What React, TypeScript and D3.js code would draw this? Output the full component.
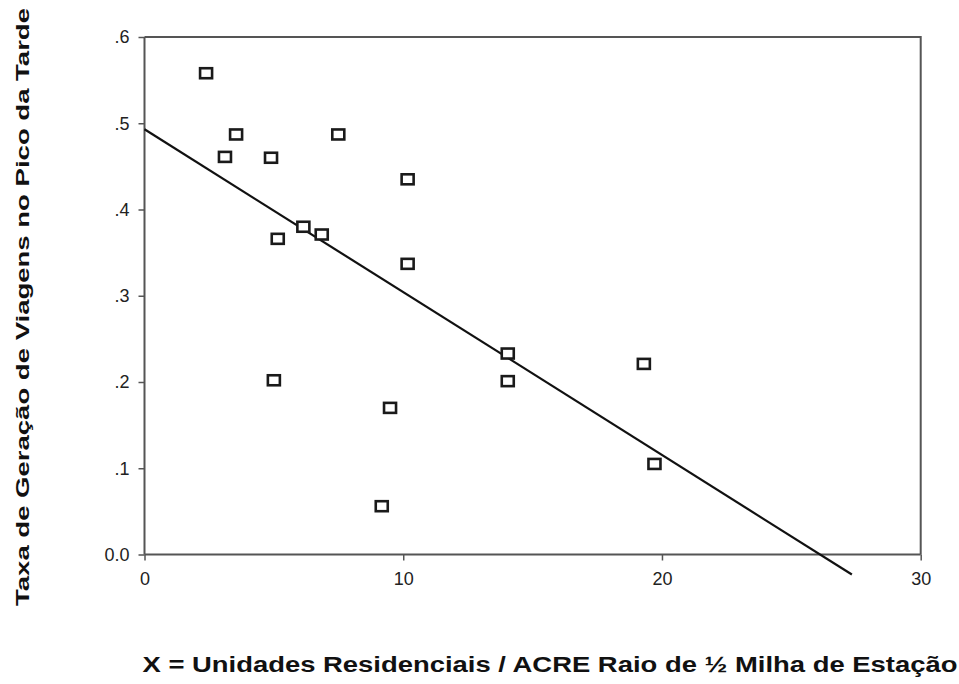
import React, { useRef, useEffect } from 'react';
import * as d3 from 'd3';

// residential units per acre (x) and PM peak trip generation rate (y)
const unitsPerAcre = [2.38, 3.54, 3.11, 4.89, 7.49, 6.14, 6.85, 5.15, 10.17, 10.17, 14.04, 14.04, 9.49, 9.17, 5.0, 19.3, 19.71];
const tripRate = [0.558, 0.487, 0.461, 0.46, 0.487, 0.38, 0.371, 0.366, 0.435, 0.337, 0.233, 0.201, 0.17, 0.056, 0.202, 0.221, 0.105];

// fitted line endpoints (x values) and its coefficients
const fitX = [0, 27.34];
const fitIntercept = 0.493;
const fitSlope = -0.01888;

const xTicks = [0, 10, 20, 30];
const yTicks = [0, 0.1, 0.2, 0.3, 0.4, 0.5, 0.6];
const yTickLabels = ['0.0', '.1', '.2', '.3', '.4', '.5', '.6'];

const xTitle = 'X = Unidades Residenciais / ACRE Raio de ½ Milha de Estação';
const yTitle = 'Taxa de Geração de Viagens no Pico da Tarde';

const W = 959;
const H = 684;

const App: React.FC = () => {
    const svgRef = useRef<SVGSVGElement | null>(null);

    useEffect(() => {
        if (!svgRef.current) return;
        const svg = d3.select(svgRef.current);
        svg.selectAll('*').remove();

        const left = 144.5;
        const right = 920.7;
        const top = 37;
        const bottom = 554.5;

        const x = d3.scaleLinear().domain([0, 30]).range([left, right]);
        const y = d3.scaleLinear().domain([0, 0.6]).range([bottom, top]);

        const axisColor = '#555';
        const font = 'Liberation Sans, Arial, sans-serif';

        // box (top + right)
        svg.append('path')
            .attr('d', `M${left},${top}H${right}V${bottom}`)
            .attr('fill', 'none')
            .attr('stroke', axisColor)
            .attr('stroke-width', 2);

        const xAxis = svg.append('g')
            .attr('transform', `translate(0,${bottom})`)
            .call(d3.axisBottom(x).tickValues(xTicks).tickSize(6).tickPadding(12).tickFormat(d3.format('d')));
        const yAxis = svg.append('g')
            .attr('transform', `translate(${left},0)`)
            .call(d3.axisLeft(y).tickValues(yTicks).tickSize(6).tickPadding(9)
                .tickFormat((_d, i) => yTickLabels[i]));

        [xAxis, yAxis].forEach((g) => {
            g.select('.domain').attr('stroke', axisColor).attr('stroke-width', 2);
            g.selectAll('.tick line').attr('stroke', axisColor).attr('stroke-width', 1.5);
            g.selectAll('.tick text')
                .attr('fill', '#222')
                .attr('font-family', font)
                .attr('font-size', 18);
        });
        xAxis.select('.domain').attr('d', `M${left},0H${right}`);
        yAxis.select('.domain').attr('d', `M0,${bottom}V${top}`);

        // regression line
        const line = d3.line<number>()
            .x((d) => x(d))
            .y((d) => y(fitIntercept + fitSlope * d));
        svg.append('path')
            .attr('d', line(fitX)!)
            .attr('fill', 'none')
            .attr('stroke', '#111')
            .attr('stroke-width', 2.2);

        // markers
        const mw = 12;
        const mh = 10;
        svg.append('g')
            .selectAll('rect')
            .data(unitsPerAcre.map((v, i) => [v, tripRate[i]]))
            .enter()
            .append('rect')
            .attr('x', (d) => x(d[0]) - mw / 2)
            .attr('y', (d) => y(d[1]) - mh / 2)
            .attr('width', mw)
            .attr('height', mh)
            .attr('fill', 'white')
            .attr('stroke', '#1a1a1a')
            .attr('stroke-width', 2.6);

        // titles
        svg.append('text')
            .attr('x', 550)
            .attr('y', 672)
            .attr('text-anchor', 'middle')
            .attr('font-family', font)
            .attr('font-weight', 'bold')
            .attr('font-size', 22)
            .attr('textLength', 815)
            .attr('lengthAdjust', 'spacingAndGlyphs')
            .attr('fill', '#111')
            .text(xTitle);

        svg.append('text')
            .attr('transform', `translate(29,307) rotate(-90)`)
            .attr('text-anchor', 'middle')
            .attr('font-family', font)
            .attr('font-weight', 'bold')
            .attr('font-size', 19)
            .attr('textLength', 598)
            .attr('lengthAdjust', 'spacingAndGlyphs')
            .attr('fill', '#111')
            .text(yTitle);
    }, []);

    return (
        <svg
            ref={svgRef}
            width={W}
            height={H}
            style={{ position: 'absolute', left: 0, top: 0, background: 'white' }}
            viewBox={`0 0 ${W} ${H}`}
        ></svg>
    );
};

export default App;
